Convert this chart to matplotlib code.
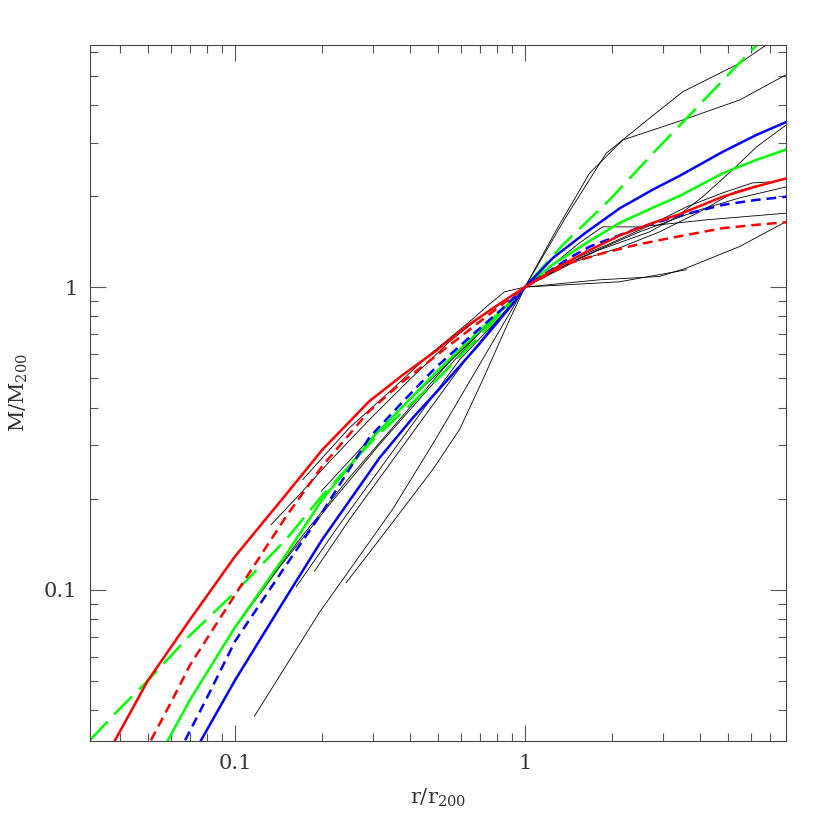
import matplotlib
matplotlib.use("Agg")
import matplotlib.pyplot as plt
from matplotlib.ticker import LogLocator, FuncFormatter, NullFormatter

plt.rcParams["font.family"] = "DejaVu Serif"
plt.rcParams["mathtext.fontset"] = "dejavuserif"
plt.rcParams["lines.scale_dashes"] = False

# model profiles
red_solid_x = [0.0386, 0.05, 0.07, 0.1, 0.15, 0.2, 0.29, 0.38, 0.49, 0.64, 0.84, 1, 1.25, 1.63, 2.12, 2.76, 3.41, 4.81, 6.27, 8]
red_solid_y = [0.0318, 0.050, 0.0797, 0.1288, 0.2065, 0.290, 0.419, 0.5135, 0.613, 0.751, 0.896, 1, 1.14, 1.31, 1.48, 1.63, 1.74, 1.99, 2.15, 2.29]

red_dash_x = [0.0513, 0.06, 0.07, 0.1, 0.15, 0.2, 0.29, 0.38, 0.49, 0.7, 1, 1.42, 1.86, 2.42, 3.15, 4.81, 6.27, 8]
red_dash_y = [0.0318, 0.0422, 0.0564, 0.0961, 0.1745, 0.2562, 0.389, 0.488, 0.59, 0.77, 1, 1.2, 1.295, 1.379, 1.451, 1.566, 1.606, 1.639]

blue_solid_x = [0.0764, 0.1, 0.15, 0.2, 0.315, 0.41, 0.535, 0.697, 0.908, 1, 1.25, 1.63, 2.12, 2.76, 3.41, 4.81, 6.27, 8]
blue_solid_y = [0.0318, 0.0502, 0.0943, 0.1466, 0.2726, 0.3695, 0.488, 0.65, 0.88, 1, 1.25, 1.52, 1.82, 2.10, 2.33, 2.80, 3.18, 3.52]

blue_dash_x = [0.0673, 0.08, 0.1, 0.15, 0.2, 0.29, 0.38, 0.49, 0.64, 0.84, 1, 1.42, 1.67, 2.42, 3.32, 4.81, 6.27, 8]
blue_dash_y = [0.0318, 0.0439, 0.0675, 0.1205, 0.1805, 0.3175, 0.419, 0.54, 0.679, 0.852, 1, 1.247, 1.36, 1.56, 1.71, 1.869, 1.941, 1.99]

green_solid_x = [0.0587, 0.07, 0.1, 0.15, 0.2, 0.3, 0.5, 0.7, 0.84, 1, 1.25, 1.63, 2.12, 2.76, 3.41, 4.81, 6.27, 8]
green_solid_y = [0.0318, 0.0433, 0.0751, 0.1308, 0.1986, 0.32, 0.53, 0.72, 0.845, 1, 1.19, 1.40, 1.63, 1.83, 2.0, 2.378, 2.63, 2.854]

green_dash_x = [0.0316, 0.04, 0.05, 0.07, 0.1, 0.15, 0.2, 0.3, 0.5, 0.7, 1, 1.35, 1.956, 2.834, 5, 6.3]
green_dash_y = [0.0318, 0.0404, 0.050, 0.0707, 0.098, 0.1466, 0.2048, 0.3133, 0.498, 0.691, 1, 1.379, 1.941, 2.839, 5.01, 6.31]

# individual clusters (thin black)
clusters = [
    ([0.1167, 0.1956, 0.3492, 0.4797, 0.6967, 1, 1.284, 1.669, 2.174, 3.501, 5.491, 7.912],
     [0.0382, 0.0842, 0.1841, 0.302, 0.554, 1, 1.546, 2.378, 3.063, 3.566, 4.151, 5.020]),
    ([0.2417, 0.3410, 0.4809, 0.5943, 0.7152, 0.8843, 1, 1.387, 1.905, 2.687, 3.501, 5.491, 6.787],
     [0.1054, 0.1618, 0.2495, 0.338, 0.494, 0.780, 1, 1.710, 2.768, 3.613, 4.422, 5.487, 6.306]),
    ([0.1713, 0.2482, 0.3410, 0.4685, 0.6435, 0.7364, 0.8498, 1, 1.315, 1.807, 2.687, 3.330, 4.094, 5.194, 6.284, 7.955],
     [0.2312, 0.343, 0.451, 0.598, 0.768, 0.861, 0.965, 1, 1.158, 1.328, 1.522, 1.706, 1.986, 2.438, 2.904, 3.433]),
    ([0.1333, 0.1669, 0.2118, 0.2909, 0.3997, 0.5491, 0.7545, 1, 1.542, 2.482, 3.998, 5.491, 7.955],
     [0.1642, 0.2063, 0.2651, 0.365, 0.494, 0.660, 0.8416, 1, 1.249, 1.522, 1.799, 1.971, 2.143]),
    ([0.1983, 0.2687, 0.3692, 0.5072, 0.6967, 1, 1.315, 1.956, 2.624, 3.605, 4.798, 6.087, 6.968],
     [0.2116, 0.290, 0.394, 0.5254, 0.7065, 1, 1.185, 1.390, 1.581, 1.841, 2.047, 2.209, 2.226]),
    ([0.1879, 0.2482, 0.3410, 0.4685, 0.6435, 0.8168, 1, 1.481, 2.118, 2.909, 3.998, 5.279, 6.284],
     [0.1151, 0.1706, 0.2592, 0.394, 0.598, 0.792, 1, 1.212, 1.348, 1.522, 1.772, 2.063, 2.160]),
    ([0.1626, 0.2293, 0.3150, 0.4327, 0.5943, 0.8168, 1, 1.542, 1.850, 2.482, 4.216, 7.955],
     [0.1023, 0.1642, 0.2495, 0.379, 0.575, 0.792, 1, 1.400, 1.581, 1.581, 1.668, 1.755]),
    ([0.1215, 0.1669, 0.2482, 0.3692, 0.5491, 0.7545, 1, 1.807, 2.909, 3.596, 5.491, 7.955],
     [0.0977, 0.1466, 0.2348, 0.365, 0.567, 0.768, 1, 1.057, 1.084, 1.155, 1.361, 1.646]),
    ([0.102, 0.1423, 0.2118, 0.3150, 0.4685, 0.6967, 1, 2.118, 3.605],
     [0.0768, 0.1185, 0.1912, 0.302, 0.4653, 0.7065, 1, 1.041, 1.141]),
]

fig = plt.figure(figsize=(8.3, 8.3), dpi=100)
ax = fig.add_axes([0.1084, 0.1072, 0.8386, 0.8386])

for cx, cy in clusters:
    ax.plot(cx, cy, color="black", lw=0.6)

ax.plot(green_dash_x, green_dash_y, color="#00ff00", lw=1.8, dashes=(18.5, 7))
ax.plot(green_solid_x, green_solid_y, color="#00ff00", lw=1.8)
ax.plot(blue_dash_x, blue_dash_y, color="#0000ff", lw=1.8, dashes=(7, 4.3))
ax.plot(blue_solid_x, blue_solid_y, color="#0000ff", lw=1.8)
ax.plot(red_dash_x, red_dash_y, color="#ff0000", lw=1.8, dashes=(7, 4.3))
ax.plot(red_solid_x, red_solid_y, color="#ff0000", lw=1.8)

ax.set_xscale("log")
ax.set_yscale("log")
ax.set_xlim(10 ** -1.5, 10 ** 0.9)
ax.set_ylim(10 ** -1.5, 10 ** 0.8)

for axis in (ax.xaxis, ax.yaxis):
    axis.set_major_locator(LogLocator(base=10))
    axis.set_minor_locator(LogLocator(base=10, subs=range(2, 10)))
    axis.set_major_formatter(FuncFormatter(lambda v, _: f"{v:g}"))
    axis.set_minor_formatter(NullFormatter())

ax.tick_params(which="both", direction="in", top=True, right=True,
               color="#555555", width=0.8, labelsize=15, labelcolor="#333333")
ax.tick_params(which="major", length=11.5)
ax.tick_params(which="minor", length=6)
ax.tick_params(axis="x", pad=9)
ax.tick_params(axis="y", pad=9)
for s in ax.spines.values():
    s.set_color("#444444")
    s.set_linewidth(0.8)

ax.set_xlabel(r"r/r$_{200}$", fontsize=15, color="#333333")
ax.set_ylabel(r"M/M$_{200}$", fontsize=15, color="#333333")
ax.xaxis.set_label_coords(0.5, -0.066)
ax.yaxis.set_label_coords(-0.086, 0.5)

fig.savefig("out.png", dpi=100)
